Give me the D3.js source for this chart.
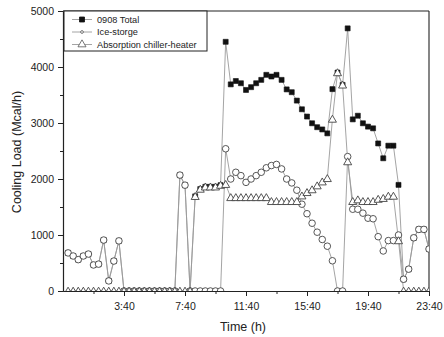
<!DOCTYPE html>
<html><head><meta charset="utf-8">
<script src="https://cdn.jsdelivr.net/npm/d3@7/dist/d3.min.js"></script>
<style>
html,body{margin:0;padding:0;background:#fff;}
svg{display:block;font-family:"Liberation Sans",Arial,sans-serif;}
</style></head><body>
<svg id="chart" width="444" height="337"></svg>
<script>
const times = ["0:00","0:20","0:40","1:00","1:20","1:40","2:00","2:20","2:40","3:00","3:20","3:40",
"4:00","4:20","4:40","5:00","5:20","5:40","6:00","6:20","6:40","7:00","7:20","7:40",
"8:00","8:20","8:40","9:00","9:20","9:40","10:00","10:20","10:40","11:00","11:20","11:40",
"12:00","12:20","12:40","13:00","13:20","13:40","14:00","14:20","14:40","15:00","15:20","15:40",
"16:00","16:20","16:40","17:00","17:20","17:40","18:00","18:20","18:40","19:00","19:20","19:40",
"20:00","20:20","20:40","21:00","21:20","21:40","22:00","22:20","22:40","23:00","23:20","23:40"];

const total = [680,625,560,625,660,465,480,910,180,535,895,
0,0,0,0,0,0,0,0,0,0,0,
2070,1890,0,1690,1820,1860,1860,1860,1890,
4450,3690,3750,3710,3590,3640,3710,3770,3860,3830,3860,3770,3600,3550,3400,3245,3115,2995,2925,2885,2815,
3605,3900,3680,4690,3065,3130,2995,2935,2905,2635,2370,2595,2595,1895,210,390,950,1100,1100,750];

const iceStorage = [680,625,560,625,660,465,480,910,180,535,895,
0,0,0,0,0,0,0,0,0,0,0,
2070,1890,
0,0,0,0,0,0,0,
2540,2000,2120,2060,1940,2000,2060,2120,2200,2240,2260,2180,2000,1930,1800,1550,1380,1210,1050,920,800,
540,0,0,2400,1460,1460,1390,1300,1290,970,715,900,900,1000,210,390,950,1100,1100,750];

const absorption = [0,0,0,0,0,0,0,0,0,0,0,0,0,0,0,0,0,0,0,0,0,0,0,0,0,
1690,1820,1860,1860,1860,1890,1905,
1670,1670,1670,1670,1670,1670,1670,1670,
1600,1600,1600,1600,1600,1600,
1700,1760,1810,1880,1950,2010,
3070,3900,3680,2310,1600,1630,1600,1600,1600,1640,1655,1695,1695,900,
0,0,0,0,0,0];

const seriesNames = ["0908 Total","Ice-storge","Absorption chiller-heater"];
const xTickLabels = ["3:40","7:40","11:40","15:40","19:40","23:40"];
const xMinorLabels = ["1:40","5:40","9:40","13:40","17:40","21:40"];
const yTicks = [0,1000,2000,3000,4000,5000];
const yMinor = [500,1500,2500,3500,4500];

const toMin = s => { const [h,m] = s.split(":").map(Number); return h*60+m; };

const L = 63, R = 429, T = 11, B = 291;
const svg = d3.select("#chart");
const x = d3.scaleLinear().domain([-20, 1420]).range([L, R]);
const y = d3.scaleLinear().domain([0, 5000]).range([B, T]);

const ink = "#222";
const lineCol = "#9a9a9a";

svg.append("defs").append("clipPath").attr("id","clip")
  .append("rect").attr("x",L).attr("y",T).attr("width",R-L).attr("height",B-T);

// axes
const xAxis = d3.axisBottom(x).tickValues(xTickLabels.map(toMin))
  .tickFormat((d,i)=>xTickLabels[i]).tickSize(5).tickSizeOuter(0);
const gx = svg.append("g").attr("transform",`translate(0,${B})`).call(xAxis);
const xMinor = d3.axisBottom(x).tickValues(xMinorLabels.map(toMin)).tickFormat("").tickSize(3).tickSizeOuter(0);
const gxm = svg.append("g").attr("transform",`translate(0,${B})`).call(xMinor);

const yAxis = d3.axisLeft(y).tickValues(yTicks).tickFormat(d3.format("d")).tickSize(5).tickSizeOuter(0);
const gy = svg.append("g").attr("transform",`translate(${L},0)`).call(yAxis);
const yMin = d3.axisLeft(y).tickValues(yMinor).tickFormat("").tickSize(3).tickSizeOuter(0);
const gym = svg.append("g").attr("transform",`translate(${L},0)`).call(yMin);

[gx,gxm,gy,gym].forEach(g=>{
  g.selectAll("path").attr("stroke",ink).attr("stroke-width",1.1);
  g.selectAll("line").attr("stroke",ink).attr("stroke-width",1);
  g.selectAll("text").attr("fill",ink).attr("font-size",10.5)
   .attr("font-family","'Liberation Sans',Arial,sans-serif");
});
gx.selectAll("text").attr("dy","1.05em");
gy.selectAll("text").attr("dx","-1");

// frame top/right
svg.append("line").attr("x1",L).attr("x2",R).attr("y1",T).attr("y2",T).attr("stroke",ink).attr("stroke-width",1.1);
svg.append("line").attr("x1",R).attr("x2",R).attr("y1",T).attr("y2",B).attr("stroke",ink).attr("stroke-width",1.1);

// axis titles
svg.append("text").attr("x",243).attr("y",331).attr("text-anchor","middle")
  .attr("font-size",12.5).attr("fill",ink).text("Time (h)");
svg.append("text").attr("transform","translate(21,152) rotate(-90)").attr("text-anchor","middle")
  .attr("font-size",12.5).attr("fill",ink).text("Cooling Load (Mcal/h)");

const plot = svg.append("g").attr("clip-path","url(#clip)");
const line = d3.line().x((d,i)=>x(toMin(times[i]))).y(d=>y(d));
const data = [total, iceStorage, absorption];
data.forEach(s=>{
  plot.append("path").datum(s).attr("d",line).attr("fill","none")
    .attr("stroke",lineCol).attr("stroke-width",0.9);
});

const sq = d3.symbol().type(d3.symbolSquare).size(25);
const ci = d3.symbol().type(d3.symbolCircle).size(34);
const tr = d3.symbol().type(d3.symbolTriangle).size(28);

plot.selectAll(".sq").data(total).join("path")
  .attr("d",sq).attr("transform",(d,i)=>`translate(${x(toMin(times[i]))},${y(d)})`)
  .attr("fill","#111").attr("stroke","#111").attr("stroke-width",0.6);
plot.selectAll(".ci").data(iceStorage).join("path")
  .attr("d",ci).attr("transform",(d,i)=>`translate(${x(toMin(times[i]))},${y(d)})`)
  .attr("fill","#fff").attr("stroke","#444").attr("stroke-width",0.9);
plot.selectAll(".tr").data(absorption).join("path")
  .attr("d",tr).attr("transform",(d,i)=>`translate(${x(toMin(times[i]))},${y(d)+0.8})`)
  .attr("fill","#fff").attr("stroke","#444").attr("stroke-width",0.9);

// legend
const lg = svg.append("g");
lg.append("rect").attr("x",64).attr("y",T).attr("width",143).attr("height",40)
  .attr("fill","#fff").attr("stroke",ink).attr("stroke-width",1);
const ly = [19.5, 32, 44.5];
const syms = [sq, d3.symbol().type(d3.symbolCircle).size(6), tr];
seriesNames.forEach((n,i)=>{
  lg.append("line").attr("x1",72).attr("x2",92).attr("y1",ly[i]).attr("y2",ly[i])
    .attr("stroke",lineCol).attr("stroke-width",0.9);
  lg.append("path").attr("d",syms[i]).attr("transform",`translate(82,${ly[i]})`)
    .attr("fill", i===0 ? "#111" : "#fff").attr("stroke", i===0 ? "#111" : "#555").attr("stroke-width",0.8);
  lg.append("text").attr("x",97).attr("y",ly[i]+3.3).attr("font-size",9.2).attr("fill",ink).text(n);
});
</script>
</body></html>
